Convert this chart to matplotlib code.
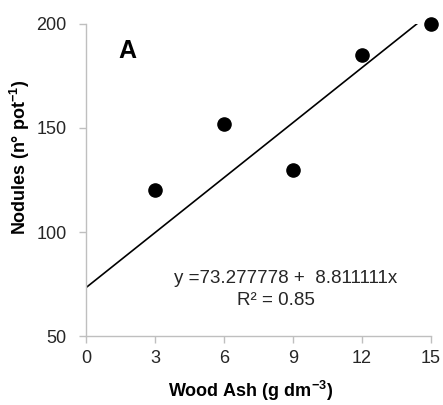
import matplotlib
matplotlib.use("Agg")
import matplotlib.pyplot as plt
import numpy as np

plt.rcParams["font.family"] = ["Liberation Sans", "DejaVu Sans"]
plt.rcParams["mathtext.fontset"] = "custom"
plt.rcParams["mathtext.rm"] = "Liberation Sans:bold"
plt.rcParams["mathtext.default"] = "rm"

# data
ash = [3, 6, 9, 12, 15]
nodules = [120, 152, 130, 185, 200]
intercept = 73.277778
slope = 8.811111
r2 = 0.85
xticks = [0, 3, 6, 9, 12, 15]
yticks = [50, 100, 150, 200]

fig = plt.figure(figsize=(4.43, 4.05), dpi=100)
ax = fig.add_axes([0.194, 0.170, 0.779, 0.771])

ax.scatter(ash, nodules, s=90, color="black", zorder=3, clip_on=False)

# fitted line, drawn until it reaches the top of the axis
x_end = (yticks[-1] - intercept) / slope
xf = np.array([0, x_end])
ax.plot(xf, intercept + slope * xf, color="black", lw=1.2)

ax.set_xlim(0, 15)
ax.set_ylim(50, 200)
ax.set_xticks(xticks)
ax.set_yticks(yticks)
for s in ["top", "right"]:
    ax.spines[s].set_visible(False)
for s in ["left", "bottom"]:
    ax.spines[s].set_color("#bfbfbf")
    ax.spines[s].set_linewidth(1.0)
ax.tick_params(direction="out", length=5, width=1.0, color="#bfbfbf",
               labelsize=13, labelcolor="#262626")
ax.tick_params(axis="y", pad=9)
ax.tick_params(axis="x", pad=5)

ax.set_xlabel(r"Wood Ash (g dm$^{-3}$)", fontsize=13, fontweight="bold")
ax.set_ylabel(r"Nodules (n° pot$^{-1}$)", fontsize=13, fontweight="bold")
ax.xaxis.set_label_coords(0.478, -0.138)
ax.yaxis.set_label_coords(-0.157, 0.574)

ax.text(1.78, 186.8, "A", fontsize=18, fontweight="bold", ha="center", va="center")
ax.text(8.67, 75.5, f"y ={intercept:.6f} +  {slope:.6f}x", fontsize=13.5,
        ha="center", va="baseline", color="#262626")
ax.text(8.26, 64.9, f"R² = {r2:.2f}", fontsize=13.5, ha="center", va="baseline",
        color="#262626")

fig.savefig("out.png", dpi=100)
